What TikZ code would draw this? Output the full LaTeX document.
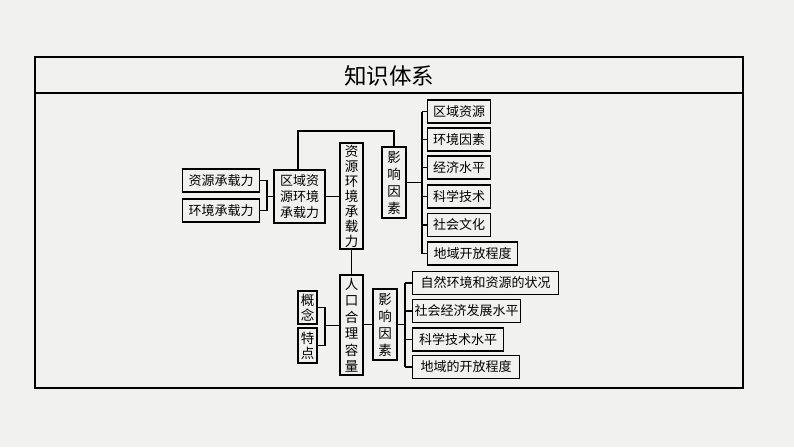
\documentclass[tikz,border=0pt]{standalone}
\usepackage{fontspec}
\newfontfamily\cjk{Noto Sans CJK SC}
\definecolor{paper}{RGB}{241,241,240}
\tikzset{
  box/.style   = {shape=rectangle, draw, line width=1.4pt, inner sep=0pt,
                  align=center, font=\cjk\fontsize{13}{16}\selectfont},
  hbox/.style  = {box, minimum height=23pt, anchor=west},
  vbox/.style  = {box, font=\cjk\fontsize{13.5}{#1}\selectfont},
  vbox/.default = 16,
  link/.style  = {draw, line width=1.1pt},
  frame/.style = {draw, line width=1.6pt}
}
\begin{document}
\begin{tikzpicture}[x=1pt, y=-1pt]
\fill[paper] (0,0) rectangle (794,447);
\useasboundingbox (0,0) rectangle (794,447);
\draw[frame] (35,57) rectangle (743,388);
\draw[frame, line width=1.2pt] (35,93) -- (743,93);
\node[font=\cjk\fontsize{22.5}{24}\selectfont] (title) at (389,76) {知识体系};

% upper part
\node[hbox, minimum width=77pt] (zyczl) at (182,180.5) {资源承载力};
\node[hbox, minimum width=77pt] (hjczl) at (182,210.5) {环境承载力};
\node[box, minimum width=51pt, minimum height=53pt] (qyzy) at (299.5,196.5) {区域资\\源环境\\承载力};
\node[vbox=15, minimum width=23pt, minimum height=106pt] (zyhj) at (351.5,196) {资\\源\\环\\境\\承\\载\\力};
\node[vbox=17, minimum width=24pt, minimum height=71pt] (yxa) at (394,182.5) {影\\响\\因\\素};
\node[hbox, minimum width=63pt] (fa1) at (427,111.5) {区域资源};
\node[hbox, minimum width=63pt] (fa2) at (427,139.5) {环境因素};
\node[hbox, minimum width=63pt] (fa3) at (427,167.5) {经济水平};
\node[hbox, minimum width=63pt] (fa4) at (427,196.5) {科学技术};
\node[hbox, minimum width=63pt] (fa5) at (427,225) {社会文化};
\node[hbox, minimum width=90pt] (fa6) at (427,253.5) {地域开放程度};

\coordinate (ja) at (267,196);
\coordinate (jtop) at (298,131);
\coordinate (jb) at (422,182.5);
\draw[link] (zyczl.east) -| (ja) |- (hjczl.east);
\draw[link] (ja) -- (ja |- qyzy.west) -- (qyzy.west);
\draw[link] (qyzy.east) -- (zyhj.west |- qyzy.east);
\draw[link] (jtop |- qyzy.north) -- (jtop) -| (yxa.north);
\draw[link] (yxa.east) -- (jb);
\draw[link] (jb |- fa1.west) -- (jb |- fa6.west);
\foreach \i in {1,...,6}
  \draw[link] (jb |- fa\i.west) -- (fa\i.west);

% lower part
\node[vbox=16.5, minimum width=23pt, minimum height=100pt] (rkhl) at (351.5,325) {人\\口\\合\\理\\容\\量};
\node[vbox=15, minimum width=19pt, minimum height=33pt] (gn) at (307.5,307.5) {概\\念};
\node[vbox=15, minimum width=19pt, minimum height=35pt] (td) at (307.5,345.5) {特\\点};
\node[vbox=17, minimum width=24pt, minimum height=71pt] (yxb) at (385,324.5) {影\\响\\因\\素};
\node[hbox, minimum width=146pt] (fb1) at (412,283) {自然环境和资源的状况};
\node[hbox, minimum width=108pt] (fb2) at (412,311) {社会经济发展水平};
\node[hbox, minimum width=91pt] (fb3) at (412,339.5) {科学技术水平};
\node[hbox, minimum width=107pt] (fb4) at (412,367) {地域的开放程度};

\coordinate (jc) at (325,325.5);
\coordinate (jd) at (405,324.5);
\draw[link] (zyhj.south) -- (rkhl.north);
\draw[link] (gn.east) -| (jc) |- (td.east);
\draw[link] (jc) -- (rkhl.west |- jc);
\draw[link] (rkhl.east |- yxb.west) -- (yxb.west);
\draw[link] (yxb.east) -- (jd);
\draw[link] (jd |- fb1.west) -- (jd |- fb4.west);
\foreach \i in {1,...,4}
  \draw[link] (jd |- fb\i.west) -- (fb\i.west);
\end{tikzpicture}
\end{document}
